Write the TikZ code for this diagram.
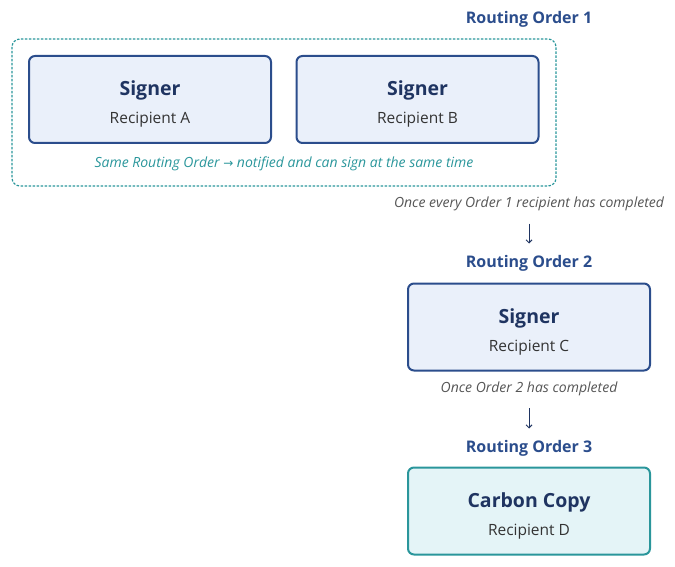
\documentclass[tikz,border=0pt]{standalone}
\usepackage{fontspec}
\setmainfont{Open Sans}
\newfontfamily\symfont{DejaVu Sans}
\usetikzlibrary{arrows.meta}
\tikzset{
	rolebox/.style={draw=custcol_blue, fill=custcol_bluefill, line width=2pt, rounded corners=6pt,
		minimum width=242pt, minimum height=87pt, align=center, inner sep=0pt,
		font=\fontsize{15.5}{28}\selectfont},
	ccbox/.style={rolebox, draw=custcol_teal, fill=custcol_tealfill},
	ordertitle/.style={inner sep=0, outer sep=0, text=custcol_blue, font=\fontsize{16}{16}\selectfont\bfseries},
	waitnote/.style={inner sep=0, outer sep=0, text=custcol_grey, font=\fontsize{14}{14}\selectfont\itshape},
	samenote/.style={waitnote, text=custcol_teal},
	steparrow/.style={-{Straight Barb[length=3pt,width=6pt]}, line width=1pt, draw=custcol_navy},
}
\newcommand{\rolelabel}[2]{\rule{0pt}{24pt}{\fontsize{19.5}{28}\selectfont\bfseries\color{custcol_navy}#1}\\{\color{custcol_text}#2}}
\begin{document}
\begin{tikzpicture}[x=1pt,y=-1pt]
	\definecolor{custcol_blue}{RGB}{43, 77, 140}
	\definecolor{custcol_navy}{RGB}{31, 52, 97}
	\definecolor{custcol_bluefill}{RGB}{234, 240, 250}
	\definecolor{custcol_teal}{RGB}{42, 150, 155}
	\definecolor{custcol_tealfill}{RGB}{228, 244, 247}
	\definecolor{custcol_text}{RGB}{51, 51, 51}
	\definecolor{custcol_grey}{RGB}{85, 85, 85}
	\useasboundingbox (0,0) rectangle (675,567);
	% routing order 1 group
	\draw [custcol_teal, line width=1.2pt, dash pattern=on 2.5pt off 1.5pt, rounded corners=8pt] (12,39) rectangle (556,186);
	\node[ordertitle] (order1) at (529,19.5) {Routing Order 1};
	\node[rolebox] (signerA) at (150,99.5) {\rolelabel{Signer}{Recipient A}};
	\node[rolebox] (signerB) at (417.5,99.5) {\rolelabel{Signer}{Recipient B}};
	\node[samenote] (same) at (284,163.5) {Same Routing Order {\symfont\fontsize{12}{12}\selectfont →} notified and can sign at the same time};
	% routing order 2
	\node[waitnote] (note1) at (529,203.5) {Once every Order 1 recipient has completed};
	\node[ordertitle] (order2) at (529,263.5) {Routing Order 2};
	\node[rolebox] (signerC) at (529,327) {\rolelabel{Signer}{Recipient C}};
	\draw[steparrow, shorten <=13pt, shorten >=12pt] (note1) -- (order2);
	% routing order 3
	\node[waitnote] (note2) at (529,388.5) {Once Order 2 has completed};
	\node[ordertitle] (order3) at (529,448.5) {Routing Order 3};
	\node[ccbox] (copyD) at (529,511) {\rolelabel{Carbon Copy}{Recipient D}};
	\draw[steparrow, shorten <=13pt, shorten >=12pt] (note2) -- (order3);
\end{tikzpicture}
\end{document}
